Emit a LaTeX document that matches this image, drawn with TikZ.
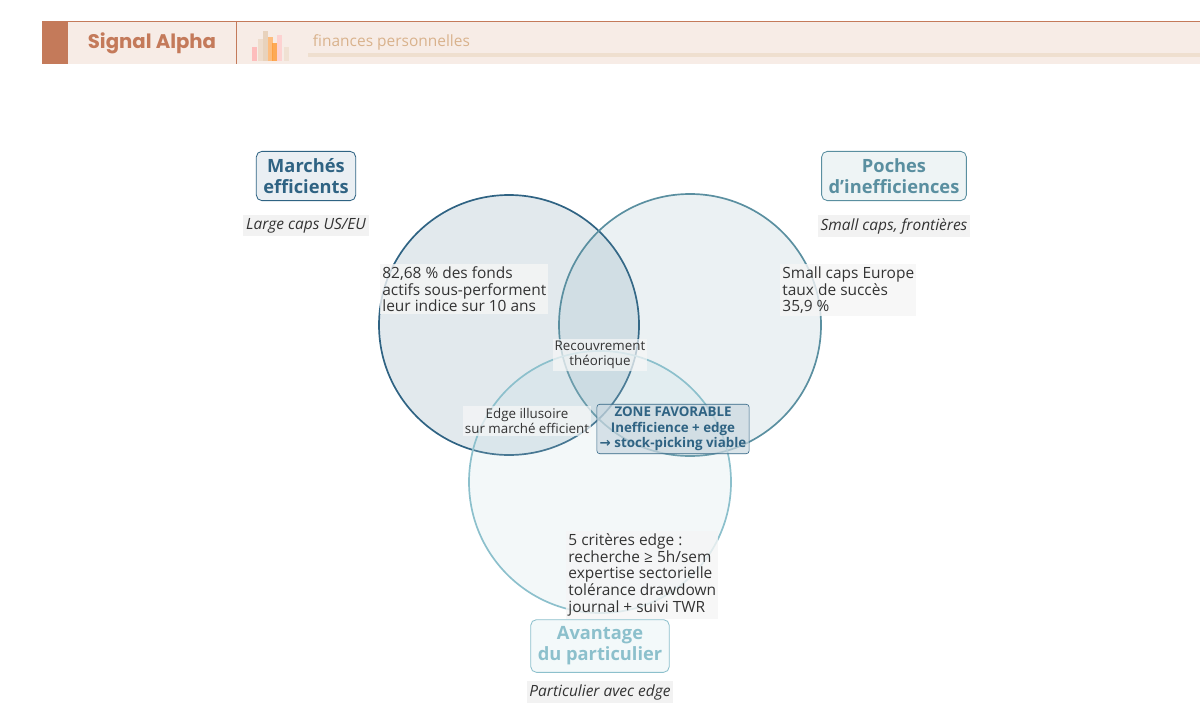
\documentclass[tikz,border=0pt]{standalone}
\usepackage{fontspec}
\setmainfont{Open Sans}
\newfontfamily\headfont{Poppins}
\newfontfamily\symfont{DejaVu Sans}
\usetikzlibrary{positioning}
\definecolor{brick}{HTML}{C47A5A}
\definecolor{cream}{HTML}{F7ECE6}
\definecolor{navyA}{HTML}{2F6383}
\definecolor{tealB}{HTML}{5A8FA0}
\definecolor{aquaC}{HTML}{8CC0CC}
\definecolor{ink}{HTML}{333333}
\tikzset{
  setA/.style={draw=navyA, line width=1.2pt, fill=navyA, fill opacity=0.14},
  setB/.style={draw=tealB, line width=1.2pt, fill=tealB, fill opacity=0.12},
  setC/.style={draw=aquaC, line width=1.2pt, fill=aquaC!60!white, fill opacity=0.18},
  title/.style={draw=#1, rounded corners=4pt, fill=#1!10!white, text=#1, font=\fontsize{13}{15}\selectfont\bfseries, align=center, inner sep=5pt, line width=0.6pt},
  sub/.style={fill=black!5, text=ink, font=\fontsize{11}{13}\selectfont\itshape, inner sep=2pt},
  note/.style={fill=black!4, fill opacity=0.8, text opacity=1, text=ink, font=\fontsize{11}{12}\selectfont, align=left, inner sep=1.5pt},
  small/.style={fill=black!3, fill opacity=0.7, text opacity=1, text=ink, font=\fontsize{9.5}{11}\selectfont, align=center, inner sep=1.5pt},
}
\begin{document}
\begin{tikzpicture}[x=0.025cm, y=-0.025cm]
\useasboundingbox (0,0) rectangle (1200,721);
% header
\fill[cream] (42,21) rectangle (1200,64);
\draw[brick, line width=0.6pt] (42,21) -- (1200,21);
\fill[brick] (42,21) rectangle (68,64);
\draw[brick, line width=0.6pt] (236,21) -- (236,64);
\node[text=brick, font=\headfont\fontsize{14}{16}\selectfont\bfseries] (brand) at (152,43) {Signal Alpha};
\foreach \x/\h/\c in {252/14/red!30, 258/22/brown!30, 263/30/brown!40, 268/24/orange!60, 272/18/orange!80, 277/26/red!20, 284/14/brown!25}
  \fill[\c, opacity=0.8] (\x,61) rectangle ++(5,-\h);
\node[text=brown!60, font=\fontsize{11}{13}\selectfont, anchor=west] (tag) at (308,42) {finances personnelles};
\fill[brown!25] (308,53) rectangle (1200,57);
% sets
\path[setA] (509,325) circle (130);
\path[setB] (690,325) circle (131);
\path[setC] (600,482) circle (131);
% titles
\node[title=navyA] (tA) at (306,176) {Marchés\\efficients};
\node[sub, below=10pt of tA] (sA) {Large caps US/EU};
\node[title=tealB] (tB) at (894,176) {Poches\\d'inefficiences};
\node[sub, below=10pt of tB] (sB) {Small caps, frontières};
\node[title=aquaC] (tC) at (600,646) {Avantage\\du particulier};
\node[sub, below=6pt of tC] (sC) {Particulier avec edge};
% notes
\node[note, anchor=north west] (nA) at (380,264) {82,68 \% des fonds\\actifs sous-performent\\leur indice sur 10 ans};
\node[note, anchor=north west] (nB) at (780,264) {Small caps Europe\\taux de succès\\35,9 \%};
\node[note, anchor=north west] (nC) at (566,531) {5 critères edge :\\recherche ≥ 5h/sem\\expertise sectorielle\\tolérance drawdown\\journal + suivi TWR};
\node[small] (ab) at (600,355) {Recouvrement\\théorique};
\node[small] (ac) at (527,421) {Edge illusoire\\sur marché efficient};
\node[draw=navyA, rounded corners=2pt, fill=navyA!25, fill opacity=0.7, text opacity=1, text=navyA, font=\fontsize{9.5}{11}\selectfont\bfseries, align=center, inner sep=2pt] (abc) at (673,429) {ZONE FAVORABLE\\Inefficience + edge\\{\symfont →} stock-picking viable};
\end{tikzpicture}
\end{document}
